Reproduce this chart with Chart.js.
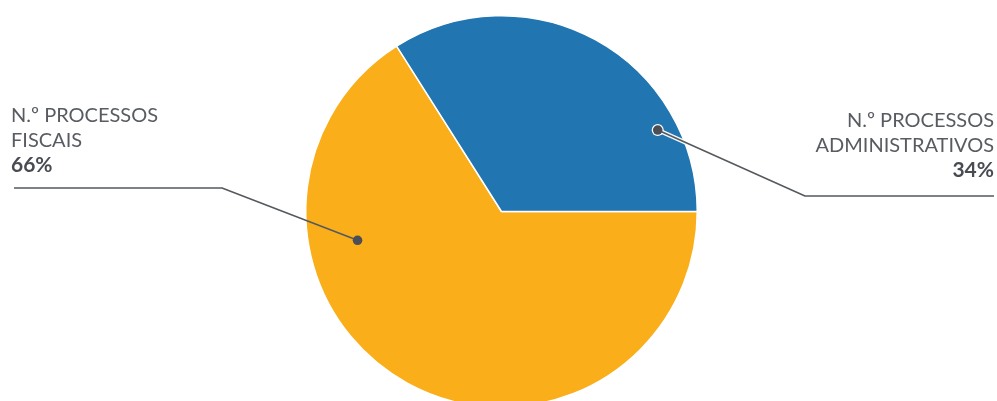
<!DOCTYPE html>
<html><head><meta charset="utf-8">
<script src="https://cdn.jsdelivr.net/npm/chart.js@4"></script>
<style>
html,body{margin:0;padding:0;background:#fff;overflow:hidden;}
#wrap{width:997px;height:401px;overflow:hidden;position:relative;}
#c{display:block;}
</style></head><body>
<div id="wrap"><canvas id="c" width="997" height="424"></canvas></div>
<script>
const categories = ['N.º PROCESSOS FISCAIS', 'N.º PROCESSOS ADMINISTRATIVOS'];
const labelLines = [['N.º PROCESSOS', 'FISCAIS'], ['N.º PROCESSOS', 'ADMINISTRATIVOS']];
const values = [66, 34];
const colors = ['#f9ae1a', '#2175b0'];

// label layout (annotation placement, not data)
const callouts = [
  {frac: 0.71, rad: 0.75, elbow: [222, 188], end: 14, textX: 11, align: 'left', base: 122, halo: false},
  {frac: 0.775, rad: 0.90, elbow: [805, 196], end: 994, textX: 994, align: 'right', base: 127, halo: true}
];

const calloutPlugin = {
  id: 'callouts',
  afterDraw(chart) {
    const ctx = chart.ctx;
    const meta = chart.getDatasetMeta(0);
    const total = values.reduce((a, b) => a + b, 0);
    meta.data.forEach((arc, i) => {
      const c = callouts[i];
      const p = arc.getProps(['x', 'y', 'startAngle', 'endAngle', 'outerRadius'], true);
      const ang = p.startAngle + (p.endAngle - p.startAngle) * c.frac;
      const dx = p.x + Math.cos(ang) * p.outerRadius * c.rad;
      const dy = p.y + Math.sin(ang) * p.outerRadius * c.rad;
      ctx.save();
      ctx.lineJoin = 'round';
      if (c.halo) {
        ctx.strokeStyle = 'rgba(255,255,255,0.95)';
        ctx.lineWidth = 4.5;
        ctx.beginPath();
        ctx.moveTo(dx, dy);
        ctx.lineTo(c.elbow[0], c.elbow[1]);
        ctx.stroke();
        ctx.beginPath();
        ctx.arc(dx, dy, 6, 0, Math.PI * 2);
        ctx.fillStyle = '#fff';
        ctx.fill();
      }
      ctx.strokeStyle = '#55595e';
      ctx.lineWidth = 1.5;
      ctx.beginPath();
      ctx.moveTo(dx, dy);
      ctx.lineTo(c.elbow[0], c.elbow[1]);
      ctx.lineTo(c.end, c.elbow[1]);
      ctx.stroke();
      ctx.beginPath();
      ctx.arc(dx, dy, 4.8, 0, Math.PI * 2);
      ctx.fillStyle = '#4b4f55';
      ctx.fill();
      // text
      ctx.textAlign = c.align;
      ctx.textBaseline = 'alphabetic';
      ctx.fillStyle = '#585c61';
      ctx.font = '400 20px Lato';
      const lines = labelLines[i];
      lines.forEach((t, k) => ctx.fillText(t, c.textX, c.base + k * 25));
      ctx.font = 'bold 21px Lato';
      ctx.fillStyle = '#484c52';
      const pct = Math.round(values[i] / total * 100) + '%';
      ctx.fillText(pct, c.textX, c.base + lines.length * 25);
      ctx.restore();
    });
  }
};

new Chart(document.getElementById('c'), {
  type: 'pie',
  data: {
    labels: categories,
    datasets: [{
      data: values,
      backgroundColor: colors,
      borderColor: '#ffffff',
      borderWidth: 1.5
    }]
  },
  options: {
    responsive: false,
    animation: false,
    rotation: 90,
    layout: {padding: {top: 15, bottom: 16, left: 6, right: 0}},
    plugins: {legend: {display: false}, tooltip: {enabled: false}}
  },
  plugins: [calloutPlugin]
});
</script>
</body></html>
